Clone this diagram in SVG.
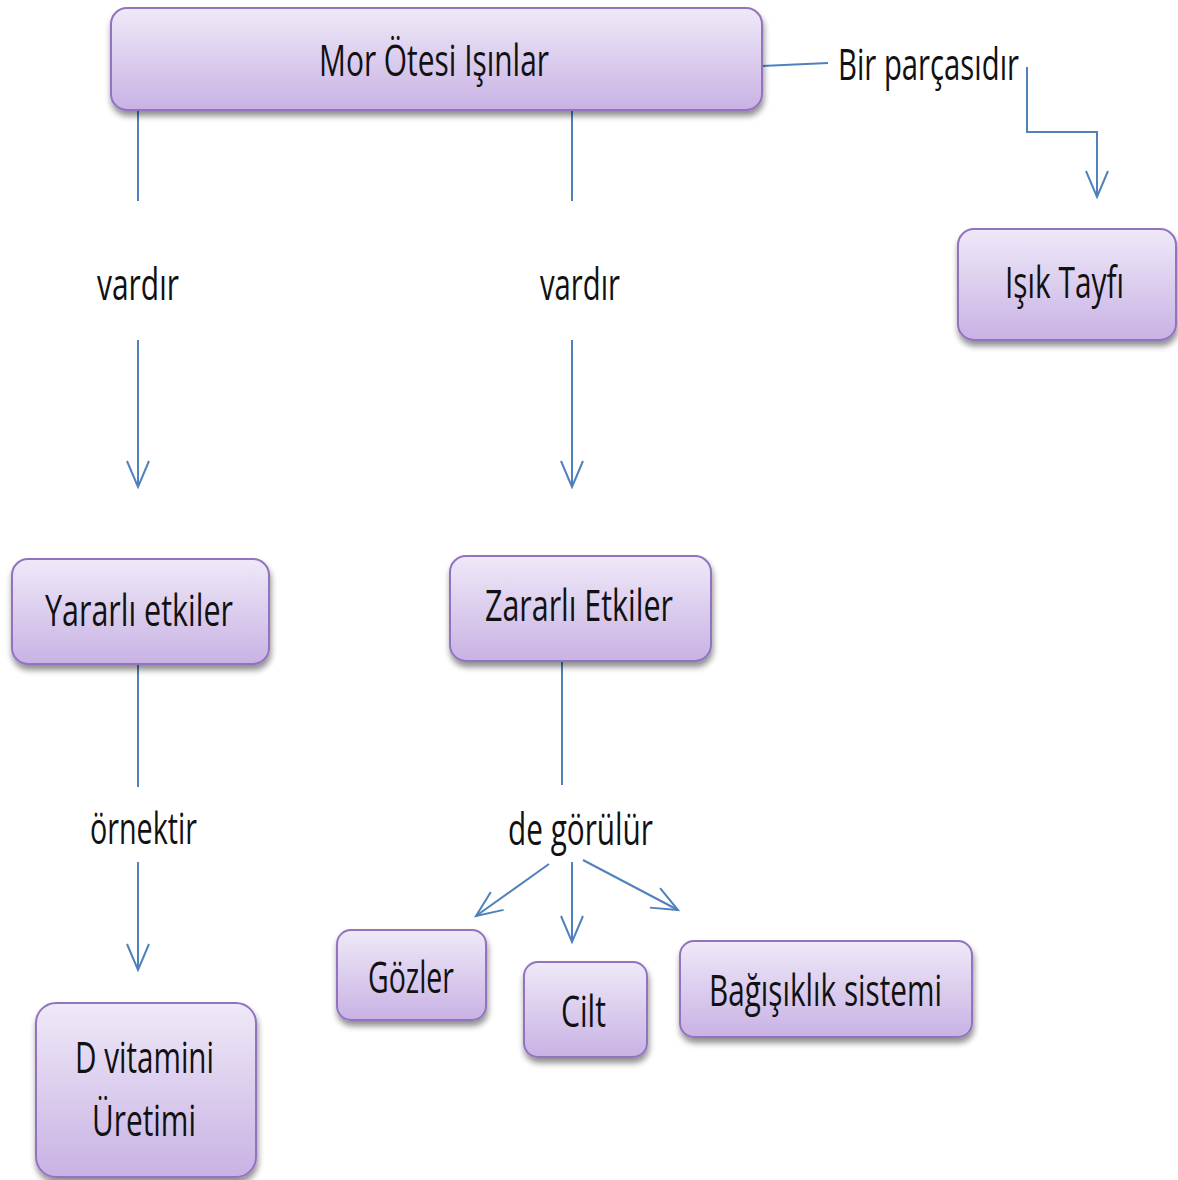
<svg xmlns="http://www.w3.org/2000/svg" width="1178" height="1180" viewBox="0 0 1178 1180">
<defs>
<linearGradient id="g" x1="0" y1="0" x2="0" y2="1">
<stop offset="0" stop-color="#efe9f8"/>
<stop offset="1" stop-color="#c8b2e4"/>
</linearGradient>
<filter id="sh" x="-10%" y="-10%" width="120%" height="130%">
<feGaussianBlur in="SourceAlpha" stdDeviation="3"/>
<feOffset dx="1" dy="5" result="b"/>
<feComponentTransfer><feFuncA type="linear" slope="0.45"/></feComponentTransfer>
<feMerge><feMergeNode/><feMergeNode in="SourceGraphic"/></feMerge>
</filter>
<marker id="arr" markerUnits="userSpaceOnUse" markerWidth="40" markerHeight="40" refX="0" refY="0" orient="auto" overflow="visible" viewBox="-30 -15 40 30">
<path d="M-26,-11 L0,0 L-26,11" fill="none" stroke="#4f81bd" stroke-width="2"/>
</marker>
</defs>
<style>
.box{fill:url(#g);stroke:#9373c0;stroke-width:2;filter:url(#sh)}
.t{font-family:"Open Sans","Liberation Sans",sans-serif;font-size:43px;fill:#111;text-anchor:start}
.c{fill:none;stroke:#4f81bd;stroke-width:2}
</style>
<g id="connectors">
<path class="c" d="M138,110 V201"/>
<path class="c" d="M138,340 V487" marker-end="url(#arr)"/>
<path class="c" d="M572,110 V201"/>
<path class="c" d="M572,340 V487" marker-end="url(#arr)"/>
<path class="c" d="M762,66 L828,63"/>
<path class="c" d="M1027,67 V132 H1097 V197" marker-end="url(#arr)"/>
<path class="c" d="M138,664 V787"/>
<path class="c" d="M138,862 V970" marker-end="url(#arr)"/>
<path class="c" d="M562,661 V785"/>
<path class="c" d="M549,864 L476,916" marker-end="url(#arr)"/>
<path class="c" d="M572,862 V942" marker-end="url(#arr)"/>
<path class="c" d="M583,860 L678,910" marker-end="url(#arr)"/>
</g>
<g id="labels">
<text class="t" x="838" y="80" textLength="181" lengthAdjust="spacingAndGlyphs">Bir parçasıdır</text>
<text class="t" x="97" y="300" textLength="82" lengthAdjust="spacingAndGlyphs">vardır</text>
<text class="t" x="540" y="300" textLength="80" lengthAdjust="spacingAndGlyphs">vardır</text>
<text class="t" x="90" y="844" textLength="107" lengthAdjust="spacingAndGlyphs">örnektir</text>
<text class="t" x="508" y="845" textLength="145" lengthAdjust="spacingAndGlyphs">de görülür</text>
</g>
<g id="n-mor">
<rect class="box" x="111" y="8" width="651" height="102" rx="16"/>
<text class="t" x="319" y="76" font-size="45" textLength="230" lengthAdjust="spacingAndGlyphs">Mor Ötesi Işınlar</text>
</g>
<g id="n-isik">
<rect class="box" x="958" y="229" width="218" height="111" rx="16"/>
<text class="t" x="1005" y="298" textLength="119" lengthAdjust="spacingAndGlyphs">Işık Tayfı</text>
</g>
<g id="n-yararli">
<rect class="box" x="12" y="559" width="257" height="105" rx="16"/>
<text class="t" x="45" y="626" textLength="188" lengthAdjust="spacingAndGlyphs">Yararlı etkiler</text>
</g>
<g id="n-zararli">
<rect class="box" x="450" y="556" width="261" height="105" rx="16"/>
<text class="t" x="485" y="621" textLength="188" lengthAdjust="spacingAndGlyphs">Zararlı Etkiler</text>
</g>
<g id="n-gozler">
<rect class="box" x="337" y="930" width="149" height="90" rx="14"/>
<text class="t" x="368" y="993" textLength="86" lengthAdjust="spacingAndGlyphs">Gözler</text>
</g>
<g id="n-cilt">
<rect class="box" x="524" y="962" width="123" height="95" rx="14"/>
<text class="t" x="561" y="1027" textLength="45" lengthAdjust="spacingAndGlyphs">Cilt</text>
</g>
<g id="n-bagisiklik">
<rect class="box" x="680" y="941" width="292" height="96" rx="14"/>
<text class="t" x="709" y="1006" textLength="233" lengthAdjust="spacingAndGlyphs">Bağışıklık sistemi</text>
</g>
<g id="n-dvit">
<rect class="box" x="36" y="1003" width="220" height="174" rx="20"/>
<text class="t" x="75" y="1073" textLength="139" lengthAdjust="spacingAndGlyphs">D vitamini</text>
<text class="t" x="92" y="1136" textLength="104" lengthAdjust="spacingAndGlyphs">Üretimi</text>
</g>
</svg>
